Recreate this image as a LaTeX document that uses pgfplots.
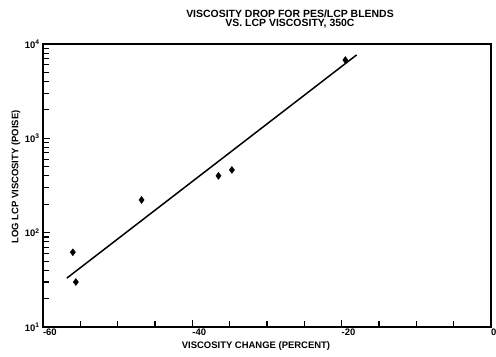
\documentclass[border=0pt]{standalone}
\usepackage{fontspec}
\setmainfont{Liberation Sans}
\usepackage{pgfplots}
\pgfplotsset{compat=1.18}
\begin{document}
\begin{tikzpicture}
\path[use as bounding box] (-43bp,-30bp) rectangle (453bp,327bp);
\begin{axis}[
  at={(0bp,0bp)}, anchor=south west,
  scale only axis, width=448bp, height=283bp,
  xmin=-60, xmax=0, ymode=log, ymin=10, ymax=10000,
  xtick={-60,-40,-20,0}, xticklabels={-60,-40,-20,0},
  minor x tick num=3,
  ytick={10,100,1000,10000},
  minor ytick={20,30,40,50,60,70,80,90,200,300,400,500,600,700,800,900,2000,3000,4000,5000,6000,7000,8000,9000},
  yticklabels={10\textsuperscript{1},10\textsuperscript{2},10\textsuperscript{3},10\textsuperscript{4}},
  xtick pos=bottom, ytick pos=left, tick align=inside,
  axis line style={line width=1.3pt},
  major tick length=7pt, minor tick length=6pt,
  every tick/.append style={black, line width=1.1pt},
  every minor tick/.append style={black, line width=1.1pt},
  ticklabel style={font=\bfseries\fontsize{9.5}{9.5}\selectfont},
  xticklabel style={anchor=north west, xshift=-3.5bp, yshift=2bp},
  clip=false,
  after end axis/.code={
    \foreach \v in {20,30,40,50,60,70,80,90,200,300,400,500,600,700,800,900,2000,3000,4000,5000,6000,7000,8000,9000}{
      \draw[black, line width=1.1pt] (axis cs:-60,\v) -- ++(5bp,0);
    }
    \foreach \v in {100,1000}{
      \draw[black, line width=1.1pt] (axis cs:-60,\v) -- ++(7bp,0);
    }
  }
]
\addplot[only marks, mark=diamond*, mark size=3.5bp, black] coordinates {
  (-56.0,62) (-55.6,30) (-46.8,222) (-36.5,400) (-34.7,463) (-19.5,6760)
};
\addplot[no marks, line width=1.5pt, black] coordinates {(-56.8,33) (-18,7660)};
\end{axis}
\node[font=\bfseries\fontsize{10.5}{9.5}\selectfont, align=center] at (247bp,308bp) {VISCOSITY DROP FOR PES/LCP BLENDS\\VS. LCP VISCOSITY, 350C};
\node[font=\bfseries\fontsize{9.5}{9.5}\selectfont] at (213bp,-19bp) {VISCOSITY CHANGE (PERCENT)};
\node[font=\bfseries\fontsize{9.5}{9.5}\selectfont, rotate=90] at (-27bp,150bp) {LOG LCP VISCOSITY (POISE)};
\end{tikzpicture}
\end{document}
